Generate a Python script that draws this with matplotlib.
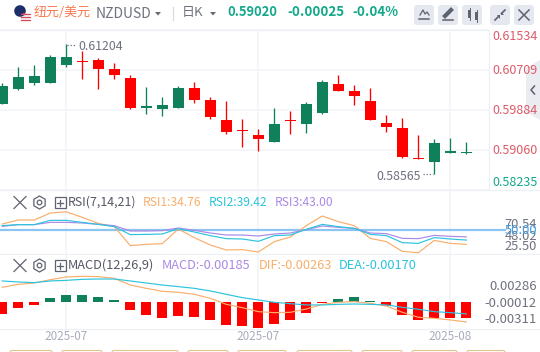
#!/usr/bin/env python3

import matplotlib
matplotlib.use("Agg")
import matplotlib.pyplot as plt
import numpy as np
from matplotlib.patches import Circle, FancyBboxPatch, Polygon, Rectangle, RegularPolygon

plt.rcParams["font.family"] = ["Noto Sans CJK SC", "DejaVu Sans"]

W, H = 540, 352

# Daily candles
opens = [0.60008, 0.60317, 0.60441, 0.60441, 0.60812, 0.60895, 0.60915, 0.60730, 0.60544, 0.59925,
         0.59905, 0.59925, 0.60338, 0.60090, 0.59678, 0.59472, 0.59368, 0.59224, 0.59678, 0.59595,
         0.59822, 0.60420, 0.60276, 0.60070, 0.59616, 0.59513, 0.58893, 0.58811, 0.58997, 0.58997]
closes = [0.60379, 0.60565, 0.60585, 0.60977, 0.60977, 0.60874, 0.60730, 0.60606, 0.59925, 0.59966,
          0.59987, 0.60338, 0.60090, 0.59740, 0.59430, 0.59451, 0.59286, 0.59595, 0.59657, 0.60008,
          0.60462, 0.60276, 0.60173, 0.59678, 0.59533, 0.58914, 0.58872, 0.59204, 0.59038, 0.59018]
highs = [0.60435, 0.60771, 0.60812, 0.61018, 0.61239, 0.61095, 0.60957, 0.60853, 0.60606, 0.60358,
         0.60152, 0.60379, 0.60462, 0.60152, 0.60070, 0.59698, 0.59492, 0.59925, 0.59864, 0.60049,
         0.60503, 0.60606, 0.60400, 0.60338, 0.59781, 0.59719, 0.59368, 0.59286, 0.59307, 0.59224]
lows = [0.60008, 0.60296, 0.60400, 0.60441, 0.60771, 0.60523, 0.60317, 0.60523, 0.59905, 0.59802,
        0.59760, 0.59925, 0.60028, 0.59698, 0.59389, 0.59121, 0.59038, 0.59224, 0.59389, 0.59410,
        0.59802, 0.60276, 0.59987, 0.59678, 0.59430, 0.58893, 0.58872, 0.58564, 0.58997, 0.58985]

rsi1 = [57.1, 61.5, 61.5, 69.2, 70.5, 64.4, 57.8, 54.2, 33.3, 34.7, 35.5, 51.6, 42.1, 34.0, 28.5,
        28.9, 26.3, 37.7, 42.8, 55.3, 65.9, 59.7, 55.3, 41.3, 37.7, 27.0, 25.5, 39.1, 35.8, 34.76]
rsi2 = [55.3, 56.4, 56.4, 61.1, 61.1, 58.9, 56.7, 54.2, 45.4, 45.7, 46.1, 52.0, 48.3, 44.3, 41.0,
        40.6, 38.0, 44.3, 45.0, 51.2, 56.7, 54.2, 52.3, 45.7, 44.3, 36.6, 35.8, 42.1, 40.6, 39.42]
rsi3 = [54.5, 56.4, 56.4, 58.9, 58.9, 58.2, 56.7, 55.3, 49.4, 49.4, 49.8, 52.7, 50.1, 47.2, 45.0,
        45.0, 43.9, 46.1, 47.2, 50.9, 54.9, 53.4, 52.3, 47.2, 46.5, 41.3, 41.0, 44.6, 43.5, 43.0]

macd = [-0.00142, -0.00071, -0.00035, 0.00047, 0.00083, 0.00083, 0.00059, 0.00024, -0.00094, -0.00153,
        -0.00189, -0.00165, -0.00177, -0.00212, -0.00271, -0.00283, -0.00307, -0.00260, -0.00212, -0.00130,
        -0.00012, 0.00035, 0.00059, 0.00008, -0.00047, -0.00153, -0.00212, -0.00189, -0.00189, -0.00185]
dif = [0.00173, 0.00208, 0.00224, 0.00263, 0.00295, 0.00303, 0.00299, 0.00279, 0.00200, 0.00161,
       0.00126, 0.00114, 0.00090, 0.00043, -0.00028, -0.00067, -0.00114, -0.00126, -0.00122, -0.00083,
       -0.00028, -0.00004, 0.00004, -0.00016, -0.00047, -0.00122, -0.00181, -0.00193, -0.00212, -0.00236]
dea = [0.00248, 0.00236, 0.00228, 0.00248, 0.00255, 0.00267, 0.00271, 0.00271, 0.00248, 0.00224,
       0.00200, 0.00181, 0.00161, 0.00130, 0.00090, 0.00051, 0.00024, -0.00004, -0.00020, -0.00035,
       -0.00035, -0.00028, -0.00024, -0.00028, -0.00035, -0.00063, -0.00086, -0.00114, -0.00126, -0.00141]

price_ticks = [0.61534, 0.60709, 0.59884, 0.59060, 0.58235]
price_labels = ["0.61534", "0.60709", "0.59884", "0.59060", "0.58235"]
price_label_y = [37, 70, 111, 151, 182]
date_idx = [4, 16, 28]
date_labels = ["2025-07", "2025-07", "2025-08"]

GREEN = "#10805a"
RED = "#ff0000"
ORANGE = "#f9ae6b"
CYAN = "#2cc3de"
PURPLE = "#a98ae6"
GRID = "#f4f5f9"
TEXT = "#6f727f"

# candle i sits at x = 2.3 + 16 i pixels
xlim = (-2.3 / 16, (W - 2.3) / 16)
x = np.arange(len(opens))

fig = plt.figure(figsize=(W / 100, H / 100), dpi=100, facecolor="white")


def panel(top, bottom):
    ax = fig.add_axes([0, 1 - bottom / H, 1, (bottom - top) / H])
    ax.set_xlim(*xlim)
    ax.axis("off")
    ax.patch.set_alpha(0)
    for i in date_idx:
        ax.axvline(i, color=GRID, lw=1.2, zorder=0)
    return ax


# Price panel
ax = panel(30, 190)
ax.set_ylim(0.58235, 0.61534)
for t in price_ticks:
    ax.plot([xlim[0], (488 - 2.3) / 16], [t, t], color=GRID, lw=1.2, zorder=0, clip_on=False)
for i in x:
    c = GREEN if closes[i] >= opens[i] else RED
    ax.vlines(i, lows[i], highs[i], color=c, lw=0.95, zorder=2)
    lo, hi = min(opens[i], closes[i]), max(opens[i], closes[i])
    ax.bar(i, hi - lo, bottom=lo, width=0.69, color=c, linewidth=0, zorder=3)

# RSI panel
ax_rsi = panel(190, 254)
ax_rsi.set_ylim(24.1, 94.5)
ax_rsi.plot([xlim[0], 31.4], [50, 50], color="#8cc4f2", lw=1.6, zorder=1)
ax_rsi.plot(x, rsi1, color=ORANGE, lw=0.85, zorder=2)
ax_rsi.plot(x, rsi3, color=PURPLE, lw=0.85, zorder=3)
ax_rsi.plot(x, rsi2, color=CYAN, lw=0.85, zorder=4)

# MACD panel
ax_macd = panel(254, 329)
ax_macd.set_ylim(-0.00319, 0.00566)
bar_colors = [GREEN if v > 0 else RED for v in macd]
ax_macd.bar(x, macd, width=0.63, color=bar_colors, linewidth=0, zorder=2)
ax_macd.plot(x, dif, color=ORANGE, lw=0.85, zorder=3)
ax_macd.plot(x, dea, color=CYAN, lw=0.85, zorder=4)

# Everything else is laid out in pixels
ov = fig.add_axes([0, 0, 1, 1], zorder=10)
ov.set_xlim(0, W)
ov.set_ylim(H, 0)
ov.axis("off")
ov.patch.set_alpha(0)

for y in [29.5, 190, 254, 328.5]:
    ov.plot([0, W if y > 29.5 else 488], [y, y], color="#eff0f5", lw=0.9, zorder=0)
ov.plot([488.5, 488.5], [30, 190], color="#eff0f5", lw=0.9, zorder=0)
ov.add_patch(Polygon([[526, 68], [540, 60], [540, 120], [526, 112]], color="#ebecf2", lw=0, zorder=1))
ov.plot([534.5, 531, 534.5], [86, 90, 94], color="#5f6270", lw=1.1, zorder=2)


def txt(px, py, s, color=TEXT, size=8.0, ha="left", **kw):
    ov.text(px, py, s, color=color, fontsize=size, ha=ha, va="center", zorder=5, **kw)


# Header
ov.add_patch(Circle((25, 17), 5, color="#f4f4f6", lw=0))
for yy, col in [(13.5, "#d9485a"), (16.5, "#d9485a"), (19.5, "#d9485a")]:
    ov.plot([20.5, 29.5], [yy, yy], color=col, lw=0.9)
ov.add_patch(Circle((20, 11), 5.8, color="#1b2f6b", lw=0))
ov.add_patch(Circle((24, 14), 1.2, color="#d9485a", lw=0))
txt(34, 12.5, "纽元/美元", "#f97a52", 9.4)
txt(96, 14, "NZDUSD", "#6f727f", 10.0)
ov.add_patch(Polygon([[155, 12], [161, 12], [158, 15.5]], color="#666a76", lw=0))
ov.plot([172.5, 172.5], [7, 20], color="#d9dbe2", lw=0.9)
txt(182, 12.5, "日K", "#6f727f", 9.4)
ov.add_patch(Polygon([[210, 12], [216, 12], [213, 15.5]], color="#666a76", lw=0))
txt(227, 12.5, "0.59020", "#12a88a", 9.3, weight="bold")
txt(287, 12.5, "-0.00025", "#12a88a", 9.6, weight="bold")
txt(352, 12.5, "-0.04%", "#12a88a", 9.6, weight="bold")

ICON = "#5f6270"
for bx in [414, 438, 462, 490, 514]:
    ov.add_patch(FancyBboxPatch((bx + 2, 7), 16, 16, boxstyle="round,pad=2,rounding_size=3",
                                color="#e6e8f0", lw=0, zorder=1))
ov.plot([420, 423, 425, 427, 429], [15, 10, 14, 12, 15], color=ICON, lw=0.9, zorder=2)
ov.plot([419, 429], [19, 19], color=ICON, lw=1.1, zorder=2)
ov.plot([445, 451], [16, 10], color=ICON, lw=3, zorder=2)
ov.plot([443, 453], [19.5, 19.5], color=ICON, lw=1.1, zorder=2)
ov.add_patch(Rectangle((468, 10), 3, 8, color=ICON, lw=0, zorder=2))
ov.add_patch(Rectangle((475, 12), 3, 8, color=ICON, lw=0, zorder=2))
ov.plot([469.5, 469.5], [8, 20], color=ICON, lw=0.7, zorder=2)
ov.plot([476.5, 476.5], [10, 22], color=ICON, lw=0.7, zorder=2)
# collapse arrows, pointing at the middle
ov.plot([495, 498.5], [20, 16.5], color=ICON, lw=1.2, zorder=2)
ov.plot([501.5, 505], [13.5, 10], color=ICON, lw=1.2, zorder=2)
ov.add_patch(Polygon([[496.5, 15], [500, 15], [500, 18.5]], color=ICON, lw=0, zorder=2))
ov.add_patch(Polygon([[500.5, 11.5], [500.5, 15], [504, 15]], color=ICON, lw=0, zorder=2))
ov.plot([519, 529], [10, 20], color=ICON, lw=1.1, zorder=2)
ov.plot([519, 529], [20, 10], color=ICON, lw=1.1, zorder=2)

# Axis labels
for s, py in zip(price_labels, price_label_y):
    col = "#12a88a" if s == "0.58235" else "#dc5a68"
    txt(492, py, s, col, 9.0)
txt(537, 224, "70.54", TEXT, 9.3, ha="right")
txt(537, 236, "48.02", TEXT, 9.3, ha="right")
txt(537, 246, "25.50", TEXT, 9.3, ha="right")
txt(537, 231, "50.00", "#3e9ce8", 9.3, ha="right")
txt(537, 287, "0.00286", TEXT, 9.5, ha="right")
txt(537, 303.5, "-0.00012", TEXT, 9.5, ha="right")
txt(537, 319.5, "-0.00311", TEXT, 9.5, ha="right")
for i, s in zip(date_idx, date_labels):
    txt(2.3 + 16 * i, 336.5, s, "#a9acbc", 8.4, ha="center")

# High / low callouts
txt(78, 47, "0.61204", TEXT, 8.9)
ov.plot([67, 76], [45, 45], color=TEXT, lw=0.9, ls=(0, (1, 1.5)))
txt(376, 176, "0.58565", TEXT, 8.9)
ov.plot([423, 433], [174, 174], color=TEXT, lw=0.9, ls=(0, (1, 1.5)))


def row_icons(y):
    ov.plot([14, 26], [y - 6, y + 6], color=ICON, lw=0.9)
    ov.plot([14, 26], [y + 6, y - 6], color=ICON, lw=0.9)
    ov.add_patch(RegularPolygon((39.5, y), 6, radius=6.5, fc="none", ec=ICON, lw=0.9))
    ov.add_patch(Circle((39.5, y), 2.3, fc="none", ec=ICON, lw=0.9))
    ov.add_patch(Rectangle((54.5, y - 5.5), 11, 11, fc="none", ec=ICON, lw=0.9))
    ov.plot([57, 63], [y, y], color=ICON, lw=0.9)
    ov.plot([60, 60], [y - 3, y + 3], color=ICON, lw=0.9)


row_icons(202.5)
txt(68, 202.5, "RSI(7,14,21)", "#555865", 8.9)
txt(143, 202.5, "RSI1:34.76", ORANGE, 8.7)
txt(209, 202.5, "RSI2:39.42", CYAN, 8.7)
txt(275, 202.5, "RSI3:43.00", PURPLE, 8.7)

row_icons(265.5)
txt(68, 265.5, "MACD(12,26,9)", "#555865", 9.2)
txt(162, 265.5, "MACD:-0.00185", PURPLE, 9.2)
txt(259, 265.5, "DIF:-0.00263", ORANGE, 9.2)
txt(339, 265.5, "DEA:-0.00170", CYAN, 9.2)

# Buttons cut off at the bottom edge
for x0, x1 in [(10, 52), (62, 102), (112, 178), (188, 228), (238, 286), (297, 352), (362, 402), (412, 457), (467, 505)]:
    ov.add_patch(FancyBboxPatch((x0, 350.5), x1 - x0, 6, boxstyle="round,pad=0,rounding_size=2",
                                fc="none", ec="#e2c48e", lw=0.8))

fig.savefig("out.png", dpi=100)
